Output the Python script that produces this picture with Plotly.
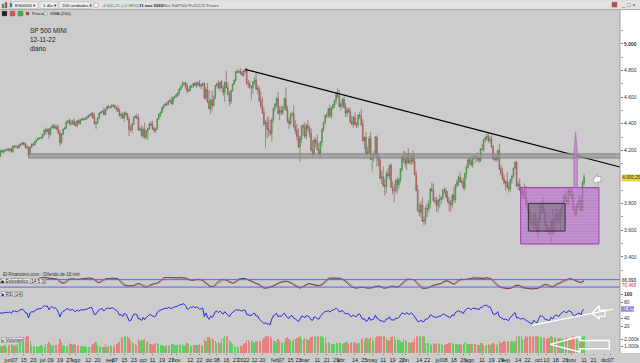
import pandas as pd
import plotly.graph_objects as go

# ---------------- data (daily bars, Apr-26-2021 .. Nov-11-2022) ----------------
closes = [
    4188,4187,4183,4211,4181,4192,4165,4168,4202,4233,4189,4152,4063,4113,4174,4164,4128,4116,4160,4156,
    4197,4188,4195,4201,4204,
    4202,4208,4192,4230,4227,4227,4220,4239,4247,4255,4246,4224,4222,4166,4224,4246,4242,4267,4281,4291,4291,4298,
    4320,4352,4344,4358,4321,4370,4385,4369,4375,4361,4327,4259,4323,4359,4368,4412,4422,4402,4401,4419,4395,
    4387,4423,4403,4429,4437,4433,4436,4448,4460,4468,4479,4448,4400,4406,4441,4480,4486,4496,4470,4509,4529,4523,
    4524,4537,4535,4520,4514,4493,4459,4469,4443,4481,4473,4433,4358,4354,4396,4449,4455,4443,4353,4360,4308,
    4357,4300,4345,4364,4399,4391,4361,4350,4364,4438,4471,4486,4520,4537,4549,4545,4567,4575,4551,4597,4605,
    4614,4631,4660,4680,4697,4702,4685,4646,4649,4683,4683,4701,4689,4705,4698,4683,4691,4701,4595,4655,4567,
    4513,4577,4538,4592,4687,4701,4668,4712,4669,4635,4710,4669,4621,4568,4649,4697,4726,4791,4786,4793,4778,4766,
    4797,4794,4701,4696,4677,4670,4713,4726,4659,4663,4577,4533,4483,4398,4410,4357,4350,4326,4432,4516,
    4546,4589,4477,4501,4484,4522,4587,4504,4419,4402,4472,4475,4381,4349,4305,4226,4288,4385,4374,
    4306,4387,4364,4329,4201,4171,4278,4260,4204,4173,4262,4358,4412,4463,4461,4512,4456,4520,4543,4575,4632,4602,4530,
    4546,4583,4525,4481,4500,4488,4413,4397,4447,4392,4391,4463,4460,4394,4272,4297,4175,4184,4288,4132,
    4155,4175,4300,4147,4123,3991,4001,3935,3930,4024,4008,4088,3923,3901,3901,3974,3941,3979,4058,4158,4132,
    4101,4176,4109,4121,4161,4116,4018,3901,3750,3735,3790,3667,3675,3765,3760,3796,3912,3900,3821,3819,3785,
    3825,3831,3845,3903,3899,3855,3819,3802,3790,3863,3831,3937,3960,3999,3962,3967,3921,4024,4073,4130,
    4119,4091,4155,4152,4145,4140,4122,4210,4208,4280,4297,4305,4275,4284,4228,4138,4128,4141,4199,4058,4031,3986,3955,
    3967,3924,3908,3980,4006,4067,4110,3932,3946,3901,3873,3900,3856,3790,3758,3693,3655,3647,3719,3640,3586,
    3678,3791,3783,3745,3640,3612,3589,3577,3669,3583,3678,3720,3695,3666,3753,3797,3859,3831,3807,3901,3872,
    3856,3760,3720,3771,3807,3828,3749,3956,4000.25,
]
upper_wick = [
    8,10,12,15,10,12,10,14,12,10,20,18,25,22,10,12,20,22,14,16,
    5,12,10,8,12,
    15,10,12,8,10,15,12,10,6,5,10,14,18,12,4,8,10,6,4,5,6,4,
    4,4,20,5,10,4,8,15,18,15,30,25,6,4,8,4,5,20,28,10,20,
    25,4,15,6,4,8,10,8,6,4,4,10,32,12,4,4,6,4,25,4,6,12,
    10,8,6,10,8,25,22,10,20,8,12,8,18,30,12,8,10,20,28,15,30,
    20,50,8,6,12,20,30,15,8,4,5,4,6,8,4,15,8,8,28,4,4,
    10,6,4,4,20,12,15,20,18,4,10,6,12,10,12,30,10,8,10,20,50,
    85,10,70,20,6,8,25,4,20,18,6,85,40,20,6,4,6,4,18,10,25,20,
    6,14,25,30,25,10,8,22,55,30,20,65,65,40,20,40,96,78,12,4,
    10,6,50,30,35,8,8,85,30,25,10,15,60,45,50,60,20,5,15,
    35,10,42,20,35,76,20,15,60,50,6,10,4,4,20,4,30,6,8,6,5,35,50,
    15,6,20,30,20,20,30,45,8,40,20,6,25,52,40,8,40,45,20,50,
    20,20,7,12,35,30,45,80,50,20,40,5,15,45,45,10,25,15,10,4,40,
    60,4,40,60,10,40,60,30,40,55,30,60,30,20,40,30,4,45,50,30,35,
    10,40,10,8,18,20,40,30,25,8,60,10,20,12,40,20,30,8,15,6,
    20,40,5,15,15,40,15,8,40,4,4,20,30,20,30,10,20,20,8,50,30,40,30,
    10,70,40,4,10,4,10,10,25,45,30,8,50,80,40,20,50,65,20,20,60,
    20,10,30,60,20,40,30,30,10,90,10,50,40,60,10,15,10,40,50,10,25,
    50,38,30,30,15,40,30,19,25,
]
lower_wick = [
    10,12,10,8,15,14,30,12,10,12,25,20,8,35,10,15,10,18,30,25,
    8,8,12,10,6,
    10,8,10,12,12,10,8,10,8,10,8,12,15,25,10,6,8,6,8,6,10,8,
    10,8,25,12,35,10,8,10,12,12,6,26,12,10,6,10,8,12,18,8,10,
    12,15,8,10,8,10,8,6,8,10,12,12,6,40,8,6,10,6,6,8,8,10,
    8,10,8,12,20,6,4,25,8,30,15,8,53,10,25,8,8,12,5,10,8,
    20,15,15,67,10,8,6,16,20,10,8,20,8,12,8,10,10,10,6,10,16,
    12,15,20,10,10,10,25,20,8,6,15,15,8,20,20,8,25,15,10,18,15,
    5,40,42,10,8,10,8,25,5,25,70,4,10,37,20,10,8,10,8,8,8,8,
    15,12,4,30,15,88,45,20,5,35,15,20,10,12,176,70,46,17,62,20,
    25,20,6,50,20,20,15,8,15,40,12,25,15,25,30,10,112,30,65,
    15,20,20,30,10,14,10,35,5,12,25,30,20,20,20,20,6,20,15,25,30,10,6,
    30,30,8,30,30,10,10,10,30,5,25,20,25,10,5,60,5,20,15,5,
    90,40,27,66,45,10,45,10,71,50,20,30,4,30,90,20,65,30,20,20,25,
    30,50,10,15,30,20,5,10,10,30,40,5,30,30,60,25,30,15,5,20,45,
    55,60,35,20,25,20,15,60,50,20,20,25,15,30,5,20,15,20,40,10,
    30,10,20,20,40,20,20,10,10,20,20,25,15,20,10,10,10,15,20,5,20,10,15,
    60,10,25,20,30,10,10,5,30,10,20,40,20,10,20,30,15,20,30,30,10,
    40,20,60,20,10,20,30,10,86,15,30,40,50,20,75,50,10,20,20,30,15,
    25,10,15,20,20,50,10,5,20,
]
volumes = [
    1250,1180,1220,1300,1350,1280,1520,1410,1300,1240,1420,1690,1950,1600,1310,1200,1350,1580,1420,1260,
    1020,1050,990,1100,870,
    1150,1030,1280,1210,980,1120,1350,1680,1820,1900,2100,2350,2600,2800,1700,1150,1020,980,960,880,1050,1100,
    1080,920,1350,1280,1640,1310,1040,1150,1200,1190,1350,1950,1620,1180,1020,1030,980,1380,1290,1150,1240,
    1120,1080,1090,1010,960,930,1010,920,880,870,950,1320,1560,1650,1180,1040,890,850,920,1240,870,1060,
    1090,980,820,1180,1250,1500,1780,2100,2350,2450,2600,2500,2100,1700,1650,1500,1250,1180,1980,1750,1820,
    1850,1950,1600,1700,1450,1300,1200,1350,1380,1420,1300,1150,1100,1050,1080,1120,1040,1110,1280,1260,1190,
    1150,1220,1310,1180,1250,1050,1200,1500,1250,1080,1020,1150,1130,1180,1100,1280,1210,1020,1950,1700,2250,
    2300,2050,2150,1850,1700,1450,1600,1500,1950,2150,2400,2600,2450,1900,1550,1300,1020,870,890,910,980,1050,
    1250,1450,1850,1900,1650,1900,1550,1400,1700,1650,1800,1750,1900,2200,2600,2400,2500,2500,2100,1750,
    1700,1500,2000,1800,1600,1500,1650,2100,2250,2000,1850,1700,2000,2050,2200,2300,2700,1950,1900,
    2150,1950,1850,2000,2300,2450,2350,2500,2600,2700,2650,2550,2100,2300,1450,1550,1400,1350,1300,1250,1500,1400,1600,
    1450,1350,1450,1650,1550,1350,1450,1600,1500,1550,1350,1450,1500,1950,2100,1900,2200,2100,2050,2250,
    2150,1800,2200,2500,2350,2600,2500,2450,2650,2100,1900,1800,2300,2400,2600,1900,2000,1850,1700,1600,1950,
    1850,1700,1650,1500,1550,1600,2200,2600,2900,2700,2800,2900,2400,1500,1450,1400,1300,1150,1450,1350,1500,
    1400,1350,1300,1200,1150,1250,1300,1450,1600,1400,1250,1350,1300,1200,1300,1150,1250,1550,1450,1350,
    1250,1300,1350,1250,1300,1200,1150,1450,1400,1200,1050,1150,1250,1150,1250,1400,1300,1150,1250,1700,1500,1600,1700,
    1650,1750,1600,1600,1700,1550,1700,2700,2400,2500,2600,2000,2050,2400,2350,2550,2400,2300,2450,2500,2550,
    2400,2350,2200,2150,2300,2000,2100,2150,2700,2350,2200,2250,2050,2100,2200,2000,2050,2100,2150,2050,1950,
    1950,2400,2300,2200,1900,2000,2100,2900,2400,
]
last_date = "2022-11-11"
holidays = ["2021-05-31", "2021-07-05", "2021-09-06", "2021-11-25", "2021-12-24",
            "2022-01-17", "2022-02-21", "2022-04-15", "2022-05-30", "2022-06-20",
            "2022-07-04", "2022-09-05", "2022-11-24"]

tick_dates = ["2021-06-01","2021-06-07","2021-06-15","2021-06-23","2021-07-01","2021-07-09","2021-07-19",
              "2021-07-27","2021-08-02","2021-08-12","2021-08-20","2021-09-01","2021-09-07","2021-09-15",
              "2021-09-23","2021-10-01","2021-10-11","2021-10-19","2021-10-27","2021-11-01","2021-11-12",
              "2021-11-22","2021-12-01","2021-12-08","2021-12-16","2021-12-27","2022-01-03","2022-01-12",
              "2022-01-20","2022-02-01","2022-02-07","2022-02-15","2022-02-23","2022-03-01","2022-03-11",
              "2022-03-21","2022-03-29","2022-04-01","2022-04-14","2022-04-25","2022-05-02","2022-05-11",
              "2022-05-19","2022-05-27","2022-06-01","2022-06-14","2022-06-22","2022-07-01","2022-07-08",
              "2022-07-18","2022-07-26","2022-08-01","2022-08-11","2022-08-19","2022-08-29","2022-09-01",
              "2022-09-14","2022-09-22","2022-10-03","2022-10-10","2022-10-18","2022-10-26","2022-11-01",
              "2022-11-11","2022-11-21","2022-12-01","2022-12-07"]
tick_labels = ["jun","07","15","23","jul","09","19","27","ago","12","20","sep","07","15","23","oct","11","19",
               "27","nov","12","22","dic","08","16","27","2022","12","20","feb","07","15","23","mar","11","21",
               "29","abr","14","25","may","11","19","27","jun","14","22","jul","08","18","26","ago","11","19",
               "29","sep","14","22","oct","10","18","26","nov","11","21","dic","07"]

price_ticks = [3400, 3600, 3800, 4200, 4400, 4600, 4800, 5000, 5200]
price_tick_text = ["3.400", "3.600", "3.800", "4.200", "4.400", "4.600", "4.800", "<b>5.000</b>", "5.200"]
price_minor = [3300, 3500, 3700, 3900, 4100, 4300, 4500, 4700, 4900, 5100]
rsi_ticks = [20, 40, 80, 100]
rsi_tick_text = ["20", "40", "80", "<b>100</b>"]
vol_ticks = [1000, 2000]
vol_tick_text = ["1.000k", "2.000k"]
stoch_levels = [20, 80]

# analyst drawings (date, value)
trend_x = ["2022-01-04", "2022-12-14 21:30"]
trend_y = [4808, 4075]
band_x = ["2021-06-18", "2022-12-16"]
band_y = [4142, 4174]
zone_x = ["2022-09-15 14:00", "2022-11-25 12:00"]
zone_y = [3497, 3921]
inner_x = ["2022-09-22 12:00", "2022-10-25 22:00"]
inner_y = [3594, 3802]
spike_x = ["2022-11-03 14:24", "2022-11-04 16:48", "2022-11-07 12:00", "2022-11-04 16:48", "2022-11-04 16:48",
           "2022-11-02 12:00", "2022-11-02 12:00", "2022-11-01 16:48", "2022-11-02 12:00", "2022-11-03 14:24"]
spike_y = [4340, 4190, 4160, 4110, 3921, 3921, 4110, 4160, 4190, 4340]
arrow_x = ["2022-11-18 16:48", "2022-11-23 07:12", "2022-11-23 07:12", "2022-11-28 19:12", "2022-11-28 19:12",
           "2022-11-23 07:12", "2022-11-23 07:12", "2022-11-18 16:48"]
arrow_y = [3975, 4020, 4003, 4003, 3963, 3963, 3943, 3975]
rsi_line_x = ["2022-09-26 16:48", "2022-12-08 16:48"]
rsi_line_y = [22, 63]
rsi_arrow_x = ["2022-11-17 21:36", "2022-11-25 16:48", "2022-11-25 16:48", "2022-12-01 09:36", "2022-12-01 09:36",
               "2022-11-25 16:48", "2022-11-25 16:48", "2022-11-17 21:36"]
rsi_arrow_y = [52.5, 71.8, 60.8, 60.8, 45, 45, 38.3, 52.5]
vol_arrow_x = ["2022-10-12 07:12", "2022-11-08 09:36", "2022-11-08 09:36", "2022-12-06 02:24", "2022-12-06 02:24",
               "2022-11-08 09:36", "2022-11-08 09:36", "2022-10-12 07:12"]
vol_arrow_y = [1243, 2386, 1814, 1814, 614, 614, 143, 1243]

# ---------------- derived ----------------
bday = pd.offsets.CustomBusinessDay(holidays=holidays)
dates = pd.date_range(end=last_date, periods=len(closes), freq=bday)
opens = [closes[0]] + closes[:-1]
highs = [max(o, c) + u for o, c, u in zip(opens, closes, upper_wick)]
lows = [min(o, c) - l for o, c, l in zip(opens, closes, lower_wick)]

cs = pd.Series(closes, dtype=float)
delta = cs.diff()
gain = delta.clip(lower=0).ewm(alpha=1 / 14, adjust=False).mean()
loss = (-delta.clip(upper=0)).ewm(alpha=1 / 14, adjust=False).mean()
rsi = 100 - 100 / (1 + gain / loss)
hs, ls = pd.Series(highs, dtype=float), pd.Series(lows, dtype=float)
raw_k = 100 * (cs - ls.rolling(14, min_periods=1).min()) / (hs.rolling(14, min_periods=1).max() - ls.rolling(14, min_periods=1).min())
stoch_k = raw_k.rolling(5, min_periods=1).mean()
stoch_d = stoch_k.rolling(3, min_periods=1).mean()

UP, DN = "#5fd05f", "#e88080"
vol_colors = [UP if c >= o else DN for o, c in zip(opens, closes)]

# ---------------- geometry helpers (pixels -> paper) ----------------
W, H = 640, 363
ML, MR, MT, MB = 0, 20, 18, 7
PW, PH = W - ML - MR, H - MT - MB
def px(x): return (x - ML) / PW
def py(y): return (H - MB - y) / PH

FONT = "Liberation Sans, Arial, DejaVu Sans"
BG = "#cccccc"

fig = go.Figure()
fig.add_trace(go.Candlestick(
    x=dates, open=opens, high=highs, low=lows, close=closes, xaxis="x", yaxis="y",
    increasing=dict(line=dict(color="#3f7a3f", width=0.6), fillcolor=UP),
    decreasing=dict(line=dict(color="#8a4a4a", width=0.6), fillcolor=DN),
    whiskerwidth=0, hoverinfo="skip"))
fig.add_trace(go.Scatter(x=trend_x, y=trend_y, mode="lines", line=dict(color="black", width=1.2),
                         xaxis="x", yaxis="y", hoverinfo="skip"))
fig.add_trace(go.Scatter(x=[zone_x[0], zone_x[1], zone_x[1], zone_x[0], zone_x[0]],
                         y=[zone_y[0], zone_y[0], zone_y[1], zone_y[1], zone_y[0]],
                         mode="lines", fill="toself", line=dict(color="#a040b4", width=1),
                         fillcolor="rgba(178,96,196,0.62)",
                         fillpattern=dict(shape="-", size=3, solidity=0.25, fgcolor="rgba(225,180,235,0.55)",
                                          bgcolor="rgba(178,96,196,0.62)"),
                         xaxis="x", yaxis="y", hoverinfo="skip"))
fig.add_trace(go.Scatter(x=[inner_x[0], inner_x[1], inner_x[1], inner_x[0], inner_x[0]],
                         y=[inner_y[0], inner_y[0], inner_y[1], inner_y[1], inner_y[0]],
                         mode="lines", fill="toself", line=dict(color="#333333", width=1),
                         fillcolor="rgba(90,90,90,0.35)", xaxis="x", yaxis="y", hoverinfo="skip"))
fig.add_trace(go.Scatter(x=spike_x, y=spike_y, mode="lines", fill="toself",
                         line=dict(color="#b060c0", width=0.6), fillcolor="rgba(200,120,210,0.75)",
                         xaxis="x", yaxis="y", hoverinfo="skip"))
fig.add_trace(go.Scatter(x=arrow_x, y=arrow_y, mode="lines", fill="toself",
                         line=dict(color="#9a9a9a", width=0.8), fillcolor="white",
                         xaxis="x", yaxis="y", hoverinfo="skip"))
# stochastic
fig.add_trace(go.Scatter(x=dates, y=stoch_d, mode="lines", line=dict(color="#c87878", width=1),
                         xaxis="x", yaxis="y2", hoverinfo="skip"))
fig.add_trace(go.Scatter(x=dates, y=stoch_k, mode="lines", line=dict(color="#4a3535", width=0.8),
                         xaxis="x", yaxis="y2", hoverinfo="skip"))
# RSI
fig.add_trace(go.Scatter(x=dates, y=rsi, mode="lines", line=dict(color="#2a2ae0", width=1),
                         xaxis="x", yaxis="y3", hoverinfo="skip"))
fig.add_trace(go.Scatter(x=rsi_line_x, y=rsi_line_y, mode="lines", line=dict(color="white", width=1.3),
                         xaxis="x", yaxis="y3", hoverinfo="skip"))
fig.add_trace(go.Scatter(x=rsi_arrow_x, y=rsi_arrow_y, mode="lines", line=dict(color="white", width=1.3),
                         xaxis="x", yaxis="y3", hoverinfo="skip"))
# volume
fig.add_trace(go.Bar(x=dates, y=volumes, marker=dict(color=vol_colors, line=dict(width=0)),
                     width=86400000 * 0.8, xaxis="x", yaxis="y4", hoverinfo="skip"))
fig.add_trace(go.Scatter(x=vol_arrow_x, y=vol_arrow_y, mode="lines", line=dict(color="white", width=1.5),
                         xaxis="x", yaxis="y4", hoverinfo="skip"))

shapes = []
# white right strip and toolbar
shapes.append(dict(type="rect", xref="paper", yref="paper", x0=1, x1=px(W), y0=0, y1=py(9.5),
                   fillcolor="white", line=dict(width=0), layer="below"))
shapes.append(dict(type="line", xref="paper", yref="paper", x0=1, x1=1, y0=0, y1=py(9.5),
                   line=dict(color="#a0a0a0", width=1)))
shapes.append(dict(type="rect", xref="paper", yref="paper", x0=px(0), x1=px(W), y0=py(9.5), y1=py(0),
                   fillcolor="#e2e2e2", line=dict(width=0)))
shapes.append(dict(type="line", xref="paper", yref="paper", x0=px(0), x1=px(W), y0=py(9.5), y1=py(9.5),
                   line=dict(color="#a8a8a8", width=1)))
# toolbar dropdown boxes
for (x0, x1) in [(9, 38), (40, 58), (59, 90)]:
    shapes.append(dict(type="rect", xref="paper", yref="paper", x0=px(x0), x1=px(x1), y0=py(8.5), y1=py(1.5),
                       fillcolor="#ececec", line=dict(color="#b0b0b0", width=0.5)))
# support band
shapes.append(dict(type="rect", xref="x", yref="y", x0=band_x[0], x1=band_x[1], y0=band_y[0], y1=band_y[1],
                   fillcolor="rgba(150,150,150,0.7)", line=dict(color="#7c7c7c", width=0.8)))
# stochastic levels
for lv in stoch_levels:
    shapes.append(dict(type="line", xref="paper", yref="y2", x0=0, x1=1, y0=lv, y1=lv,
                       line=dict(color="#6464e0", width=1)))
# toolbar icons
for (x0, x1, y0, y1, c) in [(2, 4, 4, 8, "#3aa83a"), (5, 7, 2, 8, "#d04040"), (10, 12, 3, 7, "#3a6ad8"),
                             (94, 98, 3, 7, "#ffffff"), (2, 7, 11, 16, "#202020"), (10, 15, 11, 16, "#e05050"),
                             (18, 23, 11, 16, "#40b040"), (26, 29, 12, 15, "#d03030"), (44, 47, 12, 15, "#f4f4f4"),
                             (612, 617, 2, 7, "#d04040")]:
    shapes.append(dict(type="rect", xref="paper", yref="paper", x0=px(x0), x1=px(x1), y0=py(y1), y1=py(y0),
                       fillcolor=c, line=dict(color="#777777", width=0.4)))

def ann(x, y, text, size=5, color="#222222", xanchor="left", yref="paper", **kw):
    return dict(xref="paper", yref=yref, x=px(x), y=py(y) if yref == "paper" else y, text=text,
                showarrow=False, xanchor=xanchor, yanchor="middle",
                font=dict(family=FONT, size=size, color=color), **kw)

annotations = [
    ann(13, 5, "ES0000I ▾", 4.4), ann(41, 5, "1 día ▾", 4.4), ann(60, 5, "200 unidades ▾", 4.4),
    ann(101, 5, "4.000,25 (+0,99%)", 4.3, "#1f8f1f"), ann(137, 5, "<b>11 nov 2022</b>", 4.3, "#222222"),
    ann(158, 5, "◦ Mini S&P500 Full1222 Future", 4.3, "#555555"),
    ann(638, 4.5, "_ □ ×", 6, "#555555", "right"),
    ann(30, 13.5, "Precio", 4.4), ann(48, 13.5, "SMA (200)", 4.4),
    ann(28, 31, "SP 500 MINI", 6.5, "#222222"), ann(28, 40, "12-11-22", 6.5, "#222222"),
    ann(28, 48.5, "diario", 6.5, "#222222"),
    ann(1, 277, "El-Financiero.com - Diferido de 10 min", 4.5, "#333333"),
    ann(1, 283.5, "<span style='color:#111'>■</span> Estocástico (14 5 3)", 4.5, "#222222",
        bgcolor="#e4e4e4", bordercolor="#8a8a8a", borderwidth=0.5, borderpad=0),
    ann(1, 296, "<span style='color:#2020ff'>■</span> RSI (14)", 4.5, "#222222",
        bgcolor="#e4e4e4", bordercolor="#8a8a8a", borderwidth=0.5, borderpad=0),
    ann(1, 343, "<span style='color:#30b030'>■</span> Volumen", 4.5, "#222222",
        bgcolor="#e4e4e4", bordercolor="#8a8a8a", borderwidth=0.5, borderpad=0),
    ann(620.5, 179, "4.000,25", 4.6, "#222222", bgcolor="#e8d44a", borderpad=0.3),
    ann(621, 283, "66,093", 4.6, "#222222", bgcolor="#f4f4f4", borderpad=0),
    ann(621, 287.5, "70,469", 4.6, "#d03030", borderpad=0),
    ann(621, 312, "61,87", 4.6, "#3030c0", bgcolor="#cfcff2", bordercolor="#8080d0", borderwidth=0.5, borderpad=0),
]

axis_common = dict(showgrid=False, zeroline=False, side="right", anchor="x", ticks="outside", ticklen=2,
                   tickcolor="#777777", tickfont=dict(family=FONT, size=5, color="#333333"),
                   showline=False, fixedrange=True)
fig.update_layout(
    width=W, height=H, margin=dict(l=ML, r=MR, t=MT, b=MB),
    paper_bgcolor=BG, plot_bgcolor=BG, showlegend=False, separators=",.",
    hovermode=False, shapes=shapes, annotations=annotations, bargap=0,
    xaxis=dict(type="date", range=["2021-05-21 19:12", "2022-12-14 21:36"], domain=[0, 1], anchor="y4",
               rangebreaks=[dict(bounds=["sat", "mon"]), dict(values=holidays)],
               rangeslider=dict(visible=False), showgrid=False, zeroline=False,
               tickmode="array", tickvals=tick_dates, ticktext=tick_labels, tickangle=0,
               ticks="outside", ticklen=1, tickcolor="#777777",
               tickfont=dict(family=FONT, size=5.5, color="#222222"), fixedrange=True),
    yaxis=dict(domain=[py(274), 1], range=[3289, 5193.5], tickmode="array", tickvals=price_ticks,
               ticktext=price_tick_text, minor=dict(tickvals=price_minor, ticks="outside", ticklen=2,
                                                     tickcolor="#999999"), **axis_common),
    yaxis2=dict(domain=[py(293), py(279)], range=[-8, 104], showticklabels=False, ticks="", **{k: v for k, v in axis_common.items() if k not in ("ticks",)}),
    yaxis3=dict(domain=[py(338), py(296)], range=[-2.5, 102.5], tickmode="array", tickvals=rsi_ticks,
                ticktext=rsi_tick_text, **axis_common),
    yaxis4=dict(domain=[0, py(339)], range=[0, 2430], tickmode="array", tickvals=vol_ticks,
                ticktext=vol_tick_text, **axis_common),
)
fig.write_html("out.html", config={"displayModeBar": False, "staticPlot": True},
               post_script="document.body.style.margin='0px';document.body.style.overflow='hidden';")
